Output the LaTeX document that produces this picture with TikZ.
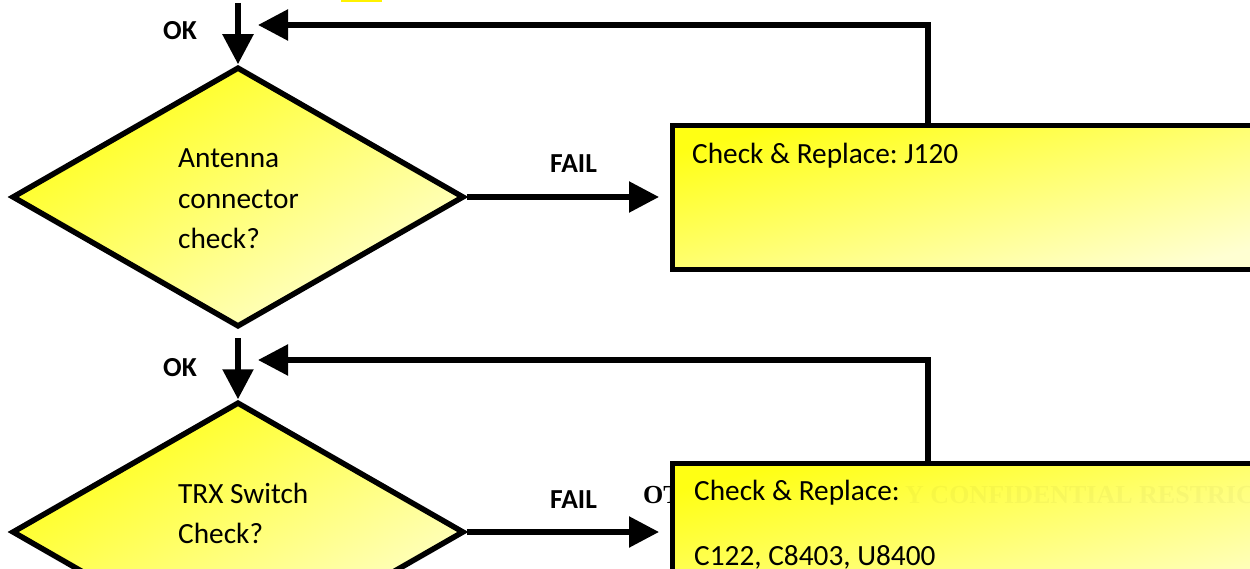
\documentclass[tikz,border=0pt]{standalone}
\usepackage{fontspec}
\setmainfont{Carlito}
\newfontfamily\wmfont{Liberation Serif}
\usetikzlibrary{shapes.geometric,arrows.meta}
\definecolor{ylA}{RGB}{255,255,20}
\definecolor{ylB}{RGB}{255,255,210}
\frenchspacing
\tikzset{
 decision/.style={diamond, draw=black, line width=5.5pt, minimum width=452pt, minimum height=260pt, inner sep=0pt, top color=ylA, bottom color=ylB, shading angle=30},
 actbox/.style={rectangle, draw=black, line width=5pt, top color=ylA, bottom color=ylB, shading angle=14, inner sep=0pt, anchor=north west},
 conn/.style={line width=5.5pt, -{Triangle[length=30pt,width=30pt]}},
 body/.style={font=\fontsize{29.3}{40}\selectfont, inner sep=0pt, anchor=base west},
 tag/.style={font=\bfseries\fontsize{27.5}{30}\selectfont, inner sep=0pt, anchor=base west},
 wm/.style={font=\wmfont\bfseries\fontsize{26}{30}\selectfont, inner sep=0pt, anchor=base west},
}
\begin{document}
\begin{tikzpicture}[x=1pt,y=1pt]
\useasboundingbox (0,-569) rectangle (1250,0);
% small highlight fragment at top
\fill[yellow] (341,0) rectangle (382,-2);
% watermark fragment behind box
\node[wm] (wm1) at (643,-503) {OT};
% decisions
\node[decision] (d1) at (238,-197) {};
\node[decision] (d2) at (238,-532) {};
% action boxes
\node[actbox, minimum width=600pt, minimum height=144pt] (box1) at (670,-123) {};
\node[actbox, minimum width=600pt, minimum height=160pt] (box2) at (670,-461) {};
% faint watermark over box
\node[wm, text=black, opacity=0.03] (wm2) at (905,-503) {Y CONFIDENTIAL RESTRIC};
% texts
\node[body] (a1) at (178,-168) {Antenna};
\node[body] (a2) at (178,-208.5) {connector};
\node[body] (a3) at (178,-249) {check?};
\node[body] (b1) at (178,-503) {TRX Switch};
\node[body] (b2) at (178,-543) {Check?};
\node[body] (c1) at (692,-164) {Check \& Replace: J120};
\node[body] (c2) at (694,-500) {Check \& Replace:};
\node[body] (c3) at (694,-565) {C122, C8403, U8400};
\node[tag] (f1) at (550,-173) {FAIL};
\node[tag] (f2) at (550,-508) {FAIL};
\node[tag] (ok1) at (163,-40) {OK};
\node[tag] (ok2) at (163,-376) {OK};
% connectors
\coordinate (s1) at (238,-3);
\coordinate (s2) at (238,-338);
\coordinate (r1) at (258,-25);
\coordinate (r2) at (258,-360);
\draw[conn] (s1) -- (d1.north);
\draw[conn] (s2) -- (d2.north);
\draw[conn, shorten >=11pt] (d1.east) -- (d1.east -| box1.west);
\draw[conn, shorten >=11pt] (d2.east) -- (d2.east -| box2.west);
\draw[conn] ([xshift=258pt]box1.north west) |- (r1);
\draw[conn] ([xshift=258pt]box2.north west) |- (r2);
\end{tikzpicture}
\end{document}
